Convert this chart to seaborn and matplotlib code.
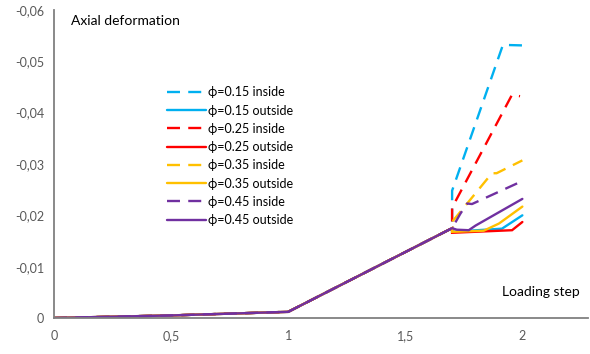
import matplotlib
matplotlib.use("Agg")
import matplotlib.pyplot as plt
import seaborn as sns
import pandas as pd

# shared path (all series coincide up to the joint at x=1.7)
common_x = [0.0, 0.5, 1.0, 1.7]
common_y = [0.0, -0.0005, -0.0012, -0.0175]

labels = ["ϕ=0.15 inside", "ϕ=0.15 outside", "ϕ=0.25 inside", "ϕ=0.25 outside",
          "ϕ=0.35 inside", "ϕ=0.35 outside", "ϕ=0.45 inside", "ϕ=0.45 outside"]

tail_x = {
    "ϕ=0.15 inside":  [1.7, 1.917, 2.0],
    "ϕ=0.15 outside": [1.7, 1.913, 2.0],
    "ϕ=0.25 inside":  [1.7, 1.956, 1.99],
    "ϕ=0.25 outside": [1.7, 1.956, 2.0],
    "ϕ=0.35 inside":  [1.705, 1.87, 1.89, 2.0],
    "ϕ=0.35 outside": [1.7, 1.835, 1.90, 2.0],
    "ϕ=0.45 inside":  [1.735, 1.764, 1.785, 1.991],
    "ϕ=0.45 outside": [1.72, 1.771, 1.80, 2.0],
}
tail_y = {
    "ϕ=0.15 inside":  [-0.0248, -0.0532, -0.0531],
    "ϕ=0.15 outside": [-0.0168, -0.0174, -0.0200],
    "ϕ=0.25 inside":  [-0.0215, -0.0435, -0.0432],
    "ϕ=0.25 outside": [-0.0166, -0.0171, -0.0187],
    "ϕ=0.35 inside":  [-0.0190, -0.0282, -0.0282, -0.0307],
    "ϕ=0.35 outside": [-0.0168, -0.0170, -0.0184, -0.0217],
    "ϕ=0.45 inside":  [-0.0203, -0.0223, -0.0222, -0.0265],
    "ϕ=0.45 outside": [-0.0172, -0.0171, -0.0180, -0.0232],
}

colors = ["#00B0F0", "#00B0F0", "#FF0000", "#FF0000",
          "#FFC000", "#FFC000", "#7030A0", "#7030A0"]

xticks = [0, 0.5, 1, 1.5, 2]
xticklabels = ["0", "0,5", "1", "1,5", "2"]
yticks = [0, -0.01, -0.02, -0.03, -0.04, -0.05, -0.06]
yticklabels = ["0", "-0,01", "-0,02", "-0,03", "-0,04", "-0,05", "-0,06"]

sns.set_style("white")
plt.rcParams["font.family"] = ["Lato", "DejaVu Sans"]

fig = plt.figure(figsize=(5.9, 3.54), dpi=100)
ax = fig.add_axes([0.0915, 0.1017, 0.905, 0.8701])

for i, lab in enumerate(labels):
    xs = common_x + tail_x[lab]
    ys = common_y + tail_y[lab]
    df = pd.DataFrame({"x": xs, "y": ys})
    dashed = "inside" in lab
    sns.lineplot(data=df, x="x", y="y", sort=False, estimator=None, ax=ax,
                 color=colors[i], linewidth=1.7, label=lab, dashes=False)
    line = ax.get_lines()[-1]
    if dashed:
        line.set_dashes((5.5, 3.5))
    line.set_solid_joinstyle("miter")

ax.set_xlim(0, 2.28)
ax.set_ylim(0, -0.06)
ax.set_xticks(xticks)
ax.set_xticklabels(xticklabels)
ax.set_yticks(yticks)
ax.set_yticklabels(yticklabels)
ax.set_xlabel("")
ax.set_ylabel("")

for s in ["top", "right"]:
    ax.spines[s].set_visible(False)
for s in ["left", "bottom"]:
    ax.spines[s].set_color("#808080")
    ax.spines[s].set_linewidth(1.3)
ax.tick_params(axis="both", direction="inout", length=6, width=1, color="#808080",
               labelcolor="#595959", labelsize=9)
ax.tick_params(axis="x", pad=6)
ax.tick_params(axis="y", pad=4)

ax.text(0.032, 0.965, "Axial deformation", transform=ax.transAxes, fontsize=10,
        color="#000000", va="center", ha="left")
ax.text(0.984, 0.085, "Loading step", transform=ax.transAxes, fontsize=10,
        color="#000000", va="center", ha="right")

leg = ax.legend(loc="upper left", bbox_to_anchor=(0.212, 0.752), frameon=False,
                fontsize=9, handlelength=3.1, handletextpad=0.15,
                labelspacing=0.5, borderpad=0, borderaxespad=0)
for t in leg.get_texts():
    t.set_color("#000000")
    t.set_family(["Lato", "DejaVu Sans"])

fig.savefig("out.png", dpi=100)
